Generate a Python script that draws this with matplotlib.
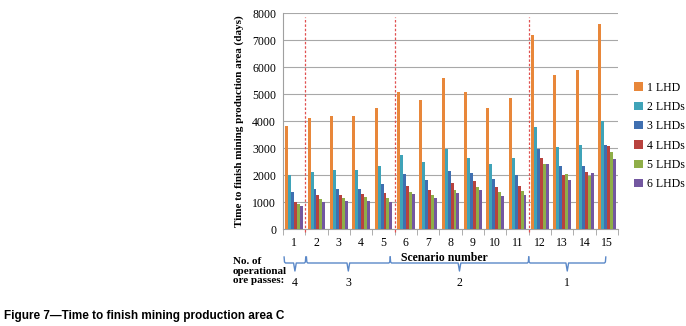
import matplotlib.pyplot as plt
import matplotlib.transforms as mtransforms
import numpy as np

scenarios = [str(i) for i in range(1, 16)]
series_names = ['1 LHD', '2 LHDs', '3 LHDs', '4 LHDs', '5 LHDs', '6 LHDs']
lhd1 = [3830, 4120, 4200, 4180, 4500, 5070, 4790, 5600, 5100, 4480, 4850, 7190, 5700, 5900, 7620]
lhd2 = [1990, 2130, 2190, 2190, 2330, 2730, 2480, 2980, 2640, 2430, 2630, 3770, 3030, 3110, 4010]
lhd3 = [1370, 1500, 1480, 1490, 1680, 2040, 1800, 2160, 2070, 1850, 2020, 2980, 2350, 2350, 3120]
lhd4 = [1020, 1260, 1280, 1300, 1330, 1580, 1460, 1720, 1780, 1560, 1600, 2640, 2010, 2110, 3090]
lhd5 = [940, 1120, 1150, 1170, 1150, 1370, 1260, 1460, 1560, 1360, 1410, 2420, 2050, 1950, 2860]
lhd6 = [840, 990, 1040, 1040, 1010, 1290, 1150, 1330, 1460, 1240, 1270, 2420, 1830, 2060, 2600]
all_series = [lhd1, lhd2, lhd3, lhd4, lhd5, lhd6]
colors = ['#E8873A', '#3FA3B8', '#3F6FB0', '#B8423E', '#8FAE48', '#7357A0']

# ore pass groups: label, start, end (in category index units)
groups = [('4', -0.45, 0.52), ('3', 0.55, 4.3), ('2', 4.3, 10.5), ('1', 10.5, 13.95)]
separators = [0.5, 4.5, 10.5]

serif = 'Liberation Serif'
fig = plt.figure(figsize=(6.86, 3.26), dpi=100)
ax = fig.add_axes([0.4125, 0.2975, 0.4885, 0.6615])

x = np.arange(len(scenarios))
w = 0.8 / 6
for k, vals in enumerate(all_series):
    ax.bar(x - 0.4 + w * (k + 0.5), vals, width=w, color=colors[k], label=series_names[k], zorder=3)

ax.set_ylim(0, 8000)
ax.set_xlim(-0.5, 14.5)
ax.set_yticks(range(0, 8001, 1000))
ax.yaxis.grid(True, color='#a8a8a8', linewidth=0.8, zorder=0)
ax.set_xticks(x)
ax.set_xticklabels(scenarios, fontfamily=serif, fontsize=8.5)
ax.set_xticks(np.arange(-0.5, 15, 1), minor=True)
ax.tick_params(axis='x', which='major', length=0, pad=6)
ax.tick_params(axis='x', which='minor', length=4, color='#a0a0a0')
ax.tick_params(axis='y', length=0, pad=5)
for lab in ax.get_yticklabels():
    lab.set_fontfamily(serif)
    lab.set_fontsize(8.5)
for s in ['top', 'right']:
    ax.spines[s].set_visible(False)
ax.spines['left'].set_color('#a0a0a0')
ax.spines['bottom'].set_color('#a0a0a0')

for sx in separators:
    ax.axvline(sx, ymin=-0.015, ymax=0.985, color='#E05050', linestyle=(0, (2, 1.5)),
               linewidth=0.9, clip_on=False, zorder=4)

ax.set_ylabel('Time to finish mining production area (days)', fontfamily=serif,
              fontweight='bold', fontsize=8, labelpad=6)

fig.legend(loc='center left', bbox_to_anchor=(0.918, 0.583), frameon=False,
           prop={'family': serif, 'size': 8.5}, handlelength=0.7, handleheight=0.7,
           handletextpad=0.4, labelspacing=0.62, borderaxespad=0)

# braces below axis
tr = mtransforms.blended_transform_factory(ax.transData, fig.transFigure)
def fy(p):
    return 1 - p / 326.0
for lab, x0, x1 in groups:
    xm = (x0 + x1) / 2
    d = 0.06
    xs = [x0, x0 + d * 0.3, x0 + d, xm - d, xm, xm + d, x1 - d, x1 - d * 0.3, x1]
    ys = [257, 262, 263, 263, 271, 263, 263, 262, 257]
    ax.plot(xs, [fy(v) for v in ys], transform=tr, color='#5A88C8', linewidth=1.0, clip_on=False)
    ax.text(xm, fy(283), lab, transform=tr, ha='center', va='center', fontfamily=serif, fontsize=8.5)

fig.text(444 / 686, fy(258), 'Scenario number', ha='center', va='center', fontfamily=serif,
         fontweight='bold', fontsize=8.5)
fig.text(233 / 686, fy(271), 'No. of\noperational\nore passes:', ha='left', va='center',
         fontfamily=serif, fontweight='bold', fontsize=8, linespacing=1.1)

fig.text(4 / 686, fy(316), 'Figure 7\u2014Time to finish mining production area C', ha='left',
         va='center', fontfamily='Liberation Sans', fontweight='bold', fontsize=8.5)

fig.savefig('out.png', dpi=100)
